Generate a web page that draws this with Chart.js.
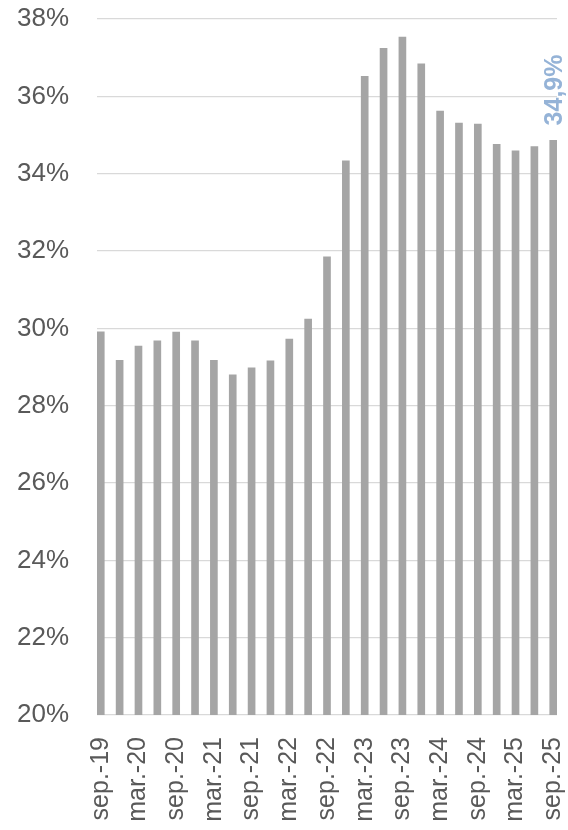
<!DOCTYPE html>
<html>
<head>
<meta charset="utf-8">
<script src="https://cdn.jsdelivr.net/npm/chart.js@4/dist/chart.umd.min.js"></script>
<style>
   html, body { margin: 0; padding: 0; background: #fff; }
   #wrap { width: 568px; height: 830px; }
</style>
</head>
<body>
<div id="wrap"><canvas id="chart"></canvas></div>
<script>
// trimestres, sep.-19 ... sep.-25
const categories = [
   "sep.-19", "dic.-19", "mar.-20", "jun.-20", "sep.-20", "dic.-20",
   "mar.-21", "jun.-21", "sep.-21", "dic.-21", "mar.-22", "jun.-22",
   "sep.-22", "dic.-22", "mar.-23", "jun.-23", "sep.-23", "dic.-23",
   "mar.-24", "jun.-24", "sep.-24", "dic.-24", "mar.-25", "jun.-25",
   "sep.-25",
];
const values = [
   29.91, 29.17, 29.54, 29.68, 29.90, 29.68,
   29.17, 28.80, 28.98, 29.16, 29.72, 30.24,
   31.85, 34.33, 36.52, 37.24, 37.53, 36.84,
   35.62, 35.31, 35.28, 34.76, 34.59, 34.70,
   34.86,
];
// solo se rotula cada segundo trimestre
const shownTicks = [0, 2, 4, 6, 8, 10, 12, 14, 16, 18, 20, 22, 24];
const yTicks = [20, 22, 24, 26, 28, 30, 32, 34, 36, 38];
const lastLabel = "34,9%";

const textColor = "#595959";
const fontFamily = "'Liberation Sans', Arial, sans-serif";

// sin relleno extra de las escalas, el area se fija a mano
const noPadding = (scale) => {
   scale.paddingLeft = 0;
   scale.paddingRight = 0;
   scale.paddingTop = 0;
   scale.paddingBottom = 0;
};

// etiqueta del último dato, vertical
const lastValueLabel = {
   id: "lastValueLabel",
   afterDatasetsDraw(chart) {
      const meta = chart.getDatasetMeta(0);
      const bar = meta.data[meta.data.length - 1];
      if (!bar) return;
      const ctx = chart.ctx;
      ctx.save();
      ctx.translate(bar.x + 2, bar.y - 15);
      ctx.rotate(-Math.PI / 2);
      ctx.font = "bold 25px " + fontFamily;
      ctx.fillStyle = "#95B3D7";
      ctx.textAlign = "left";
      ctx.textBaseline = "middle";
      ctx.fillText(lastLabel, 0, 0);
      ctx.restore();
   },
};

new Chart(document.getElementById("chart"), {
   type: "bar",
   data: {
      datasets: [{
         data: values.map((v, i) => ({ x: i, y: v })),
         backgroundColor: "#A5A5A5",
         borderWidth: 0,
         barThickness: 7,
      }],
   },
   options: {
      responsive: true,
      maintainAspectRatio: false,
      animation: false,
      layout: { padding: { left: 17, right: 11, top: 19, bottom: 4 } },
      plugins: {
         legend: { display: false },
         tooltip: { enabled: false },
      },
      scales: {
         x: {
            type: "linear",
            offset: false,
            min: -0.2,
            max: 24.2,
            grid: { display: false, drawTicks: false, offset: false },
            border: { display: false },
            afterBuildTicks: (scale) => {
               scale.ticks = shownTicks.map((v) => ({ value: v }));
            },
            afterFit: (scale) => {
               noPadding(scale);
               scale.height = 111;
            },
            ticks: {
               color: textColor,
               font: { size: 25, family: fontFamily },
               padding: 22,
               minRotation: 90,
               maxRotation: 90,
               autoSkip: false,
               callback: (value) => categories[value],
            },
         },
         y: {
            min: 20,
            max: 38,
            afterBuildTicks: (scale) => {
               scale.ticks = yTicks.map((v) => ({ value: v }));
            },
            afterFit: (scale) => {
               noPadding(scale);
               scale.width = 80;
            },
            grid: { color: "#D9D9D9", lineWidth: 1.3, drawTicks: false },
            border: { display: false },
            ticks: {
               color: textColor,
               font: { size: 26, family: fontFamily },
               padding: 28,
               callback: (value) => value + "%",
            },
         },
      },
   },
   plugins: [lastValueLabel],
});
</script>
</body>
</html>
